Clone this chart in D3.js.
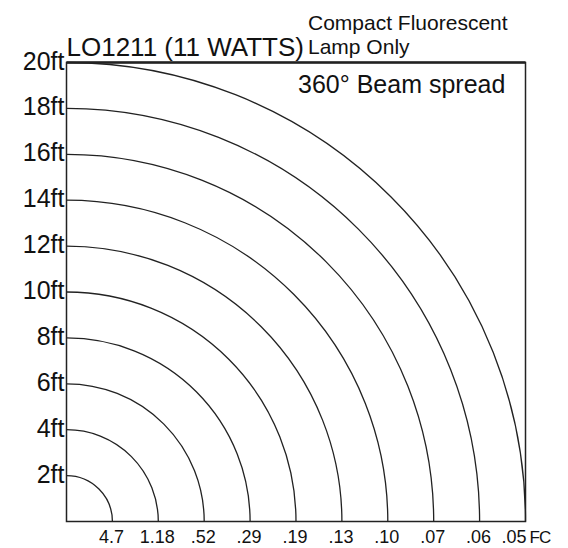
<!DOCTYPE html>
<html>
<head>
<meta charset="utf-8">
<script src="https://cdn.jsdelivr.net/npm/d3@7"></script>
<style>
    body { margin: 0; background: #fff; }
    text { font-family: "Liberation Sans", Arial, sans-serif; fill: #111; }
</style>
</head>
<body>
<svg id="chart"></svg>
<script>
var distances = [2, 4, 6, 8, 10, 12, 14, 16, 18, 20]
var fcLabels = ["4.7", "1.18", ".52", ".29", ".19", ".13", ".10", ".07", ".06", ".05"]
var titleText = "LO1211 (11 WATTS)"
var subText = ["Compact Fluorescent", "Lamp Only"]
var beamText = "360° Beam spread"

var svg_dimensions = {
    width: 568,
    height: 548,
    margin: {
        top: 62.5,
        bottom: 26.5,
        right: 42.5,
        left: 66.5
    }
}

var svg = d3.select("#chart")
            .attr("width", svg_dimensions.width)
            .attr("height", svg_dimensions.height)

var xScale = d3.scaleLinear()
               .domain([0, 20])
               .range([svg_dimensions.margin.left, svg_dimensions.width - svg_dimensions.margin.right])

var yScale = d3.scaleLinear()
               .domain([0, 20])
               .range([svg_dimensions.height - svg_dimensions.margin.bottom, svg_dimensions.margin.top])

var radius = d => xScale(d) - xScale(0)

// quarter circles from the lamp at the bottom left corner
var arcGen = d3.arc()
               .innerRadius(d => radius(d))
               .outerRadius(d => radius(d))
               .startAngle(0)
               .endAngle(Math.PI / 2)

var arcs = svg.append("g")
              .attr("transform", `translate(${xScale(0)},${yScale(0)})`)
              .selectAll("path")
              .data(distances)
              .enter()
              .append("path")
              .attr("d", arcGen)
              .attr("fill", "none")
              .attr("stroke", "#222")
              .attr("stroke-width", 1.3)

// box
var box = svg.append("rect")
             .attr("x", xScale(0))
             .attr("y", yScale(20))
             .attr("width", xScale(20) - xScale(0))
             .attr("height", yScale(0) - yScale(20))
             .attr("fill", "none")
             .attr("stroke", "#222")
             .attr("stroke-width", 1.5)

var topLine = svg.append("line")
                 .attr("x1", xScale(0))
                 .attr("x2", xScale(20))
                 .attr("y1", yScale(20))
                 .attr("y2", yScale(20))
                 .attr("stroke", "#222")
                 .attr("stroke-width", 2.5)

var yAxisGen = d3.axisLeft().scale(yScale)
                 .tickValues(distances)
                 .tickSize(0)
                 .tickPadding(2)
                 .tickFormat(d => d + "ft")

var yAxis = svg.append("g")
               .attr("transform", `translate(${xScale(0)},0)`)
               .call(yAxisGen)

yAxis.select(".domain").remove()
yAxis.selectAll("text")
     .attr("font-size", "25px")
     .attr("font-family", "Liberation Sans, Arial, sans-serif")
     .attr("fill", "#111")
     .attr("dy", "0.26em")

// FC values sit under the end of each arc, the last one pulled in before "FC"
var fcLab = svg.append("g")
               .selectAll("text")
               .data(distances)
               .enter()
               .append("text")
               .attr("x", (d, i) => i == distances.length - 1 ? xScale(d) + 1 : xScale(d) - 1)
               .attr("y", yScale(0) + 21.5)
               .attr("text-anchor", (d, i) => i == distances.length - 1 ? "end" : "middle")
               .attr("font-size", "18px")
               .text((d, i) => fcLabels[i])

var fcUnit = svg.append("text")
                .attr("x", xScale(20) + 4)
                .attr("y", yScale(0) + 21.5)
                .attr("font-size", "17px")
                .attr("letter-spacing", "-1px")
                .text("FC")

var title = svg.append("text")
               .attr("x", xScale(0))
               .attr("y", 56)
               .attr("font-size", "26px")
               .text(titleText)

var sub1 = svg.append("text")
              .attr("x", 308)
              .attr("y", 30)
              .attr("font-size", "21px")
              .text(subText[0])

var sub2 = svg.append("text")
              .attr("x", 308)
              .attr("y", 54)
              .attr("font-size", "21px")
              .text(subText[1])

var beam = svg.append("text")
              .attr("x", 298)
              .attr("y", 93)
              .attr("font-size", "25px")
              .text(beamText)
</script>
</body>
</html>
